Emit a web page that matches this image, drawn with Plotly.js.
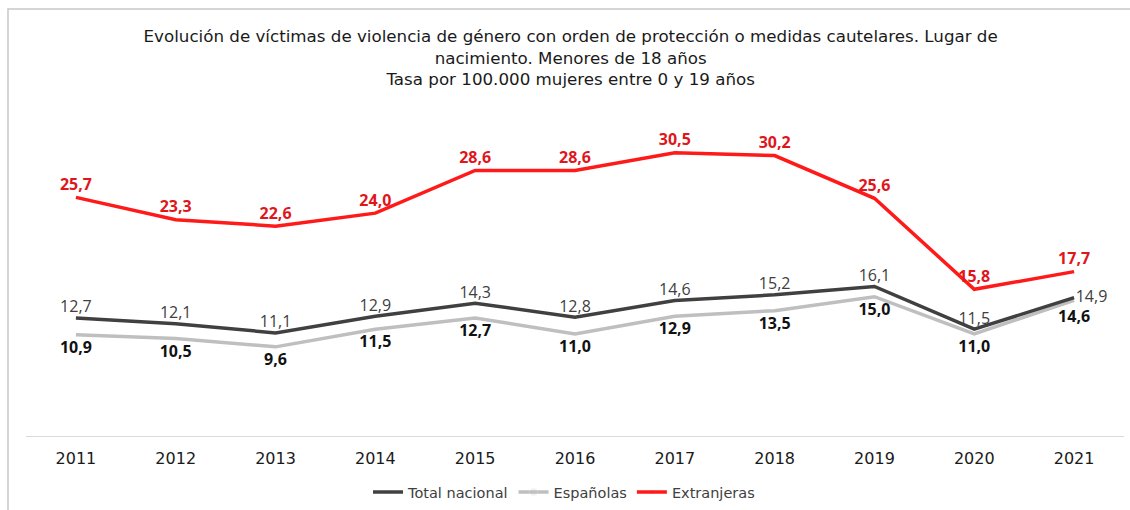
<!DOCTYPE html>
<html>
<head>
<meta charset="utf-8">
<script src="https://cdn.plot.ly/plotly-3.0.1.min.js"></script>
<style>html,body{margin:0;padding:0;background:#fff;}#chart{width:1130px;height:510px;}</style>
</head>
<body>
<div id="chart"></div>
<script>
const years = ["2011","2012","2013","2014","2015","2016","2017","2018","2019","2020","2021"];
const totalNacional = [12.7, 12.1, 11.1, 12.9, 14.3, 12.8, 14.6, 15.2, 16.1, 11.5, 14.9];
const espanolas = [10.9, 10.5, 9.6, 11.5, 12.7, 11.0, 12.9, 13.5, 15.0, 11.0, 14.6];
const extranjeras = [25.7, 23.3, 22.6, 24.0, 28.6, 28.6, 30.5, 30.2, 25.6, 15.8, 17.7];
const seriesNames = ["Total nacional", "Españolas", "Extranjeras"];

const fmt = v => v.toFixed(1).replace('.', ',');
const labelFont = "'Open Sans', sans-serif";
const mainFont = "'DejaVu Sans', sans-serif";
const last = years.length - 1;

const totalPos = years.map((y, i) => i === last ? 'middle right' : 'top center');
const espSizes = years.map((y, i) => i === last ? 13 : 8);

const traces = [
  {
    x: years, y: espanolas, name: seriesNames[1], type: 'scatter', mode: 'lines+markers+text',
    line: {color: '#bfbfbf', width: 3.5},
    marker: {size: espSizes, opacity: 0, color: '#bfbfbf'},
    text: espanolas.map(fmt), textposition: 'bottom center',
    textfont: {family: labelFont, size: 16, color: '#111111', weight: 700},
    hoverinfo: 'skip', cliponaxis: false, legendrank: 2
  },
  {
    x: years, y: totalNacional, name: seriesNames[0], type: 'scatter', mode: 'lines+markers+text',
    line: {color: '#404040', width: 3.5},
    marker: {size: 1, opacity: 0, color: '#404040'},
    text: totalNacional.map(fmt), textposition: totalPos,
    textfont: {family: labelFont, size: 16, color: '#404040'},
    hoverinfo: 'skip', cliponaxis: false, legendrank: 1
  },
  {
    x: years, y: extranjeras, name: seriesNames[2], type: 'scatter', mode: 'lines+markers+text',
    line: {color: '#ff1a1a', width: 3.5},
    marker: {size: 4, opacity: 0, color: '#ff1a1a'},
    text: extranjeras.map(fmt), textposition: 'top center',
    textfont: {family: labelFont, size: 16, color: '#e0161c', weight: 700},
    hoverinfo: 'skip', cliponaxis: false, legendrank: 3
  }
];

const layout = {
  width: 1130, height: 510,
  margin: {l: 26, r: 6, t: 111, b: 74},
  paper_bgcolor: '#ffffff', plot_bgcolor: '#ffffff',
  title: {
    text: 'Evolución de víctimas de violencia de género con orden de protección o medidas cautelares. Lugar de<br>nacimiento. Menores de 18 años<br>Tasa por 100.000 mujeres entre 0 y 19 años',
    font: {family: mainFont, size: 16.7, color: '#1a1a1a'},
    x: 0.505, xanchor: 'center', y: 0.918, yanchor: 'top', yref: 'container'
  },
  xaxis: {
    type: 'category', range: [-0.5, 10.5], showgrid: false, zeroline: false,
    showline: true, linecolor: '#d9d9d9', linewidth: 1.2, ticks: '',
    ticklabelstandoff: 8,
    tickfont: {family: mainFont, size: 16, color: '#1a1a1a'}
  },
  yaxis: {range: [0, 35], showgrid: false, zeroline: false, showline: false, showticklabels: false, ticks: ''},
  showlegend: true,
  legend: {
    orientation: 'h', x: 0.49, xanchor: 'center', y: 0.035, yref: 'container', yanchor: 'middle',
    traceorder: 'normal', font: {family: mainFont, size: 14.5, color: '#404040'},
    itemwidth: 30
  },
  shapes: [{
    type: 'rect', xref: 'paper', yref: 'paper',
    x0: -0.0164, x1: 1.05, y0: -0.3, y1: 1.314,
    line: {color: '#c8c8c8', width: 1.5}, fillcolor: 'rgba(0,0,0,0)', layer: 'below'
  }]
};

Plotly.newPlot('chart', traces, layout, {displayModeBar: false, staticPlot: true});
</script>
</body>
</html>
